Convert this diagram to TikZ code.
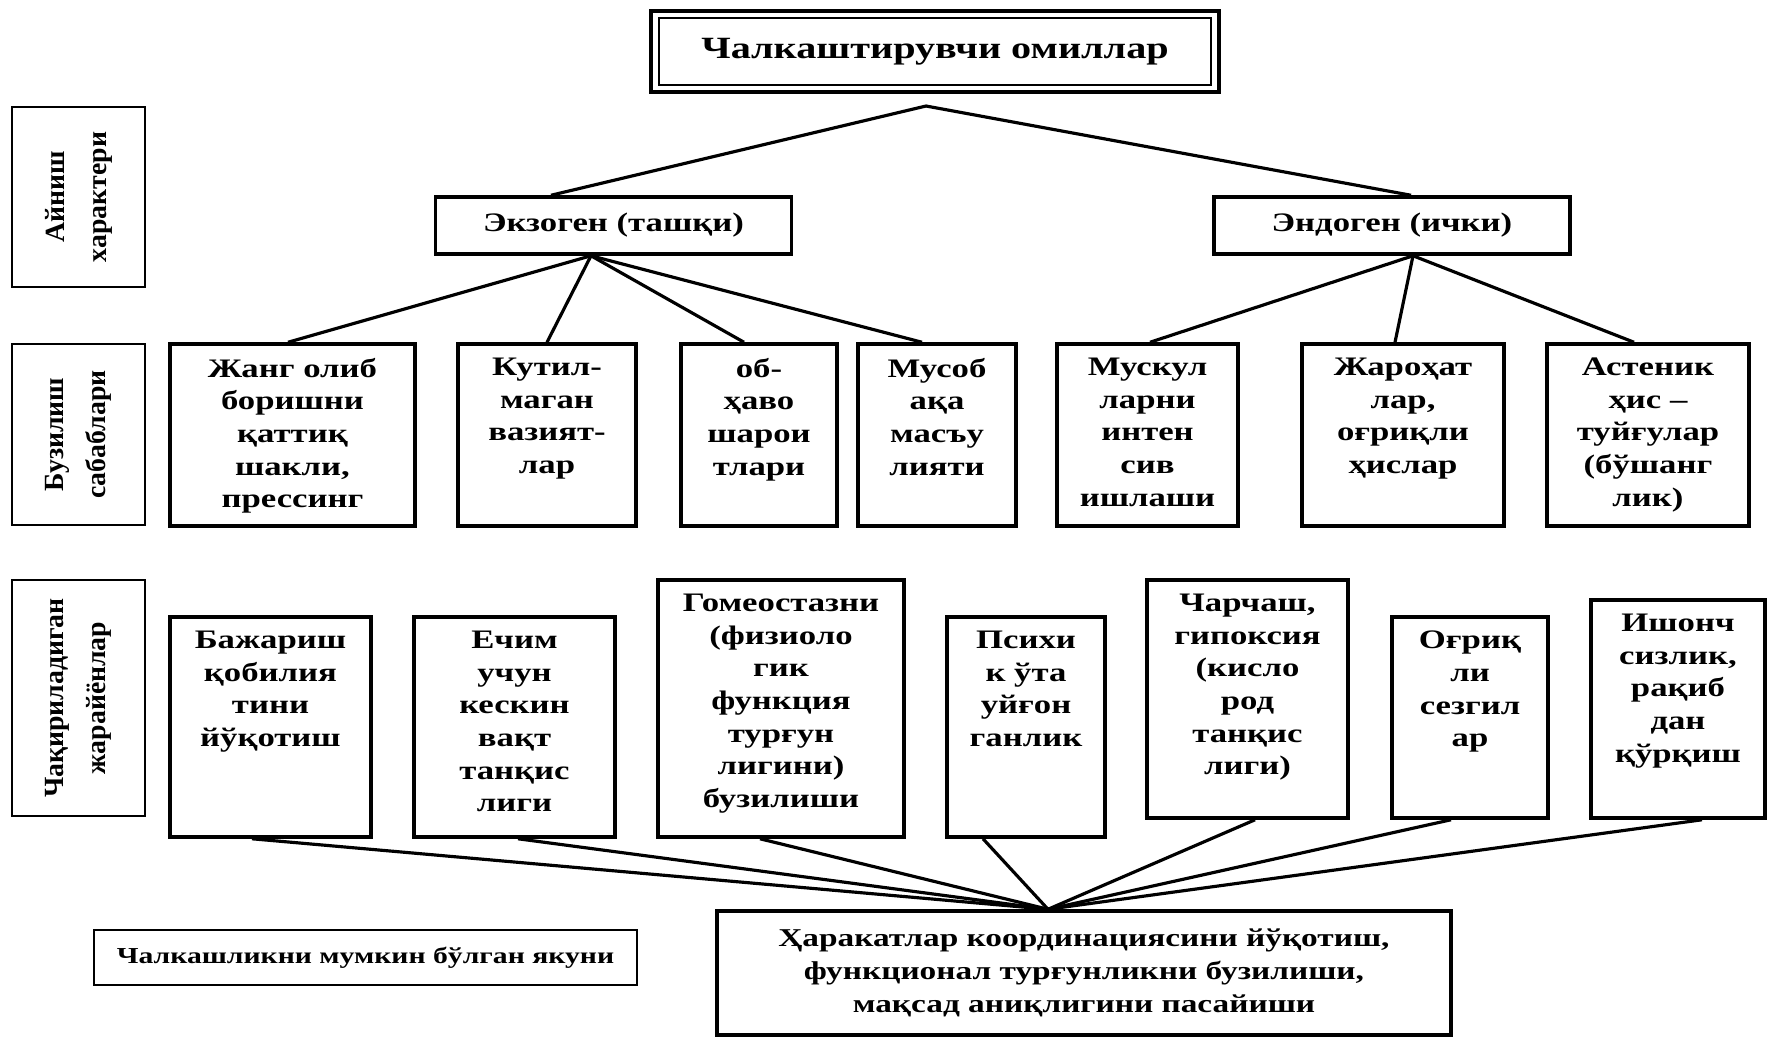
\documentclass[tikz,border=0pt]{standalone}
\usepackage{fontspec}
\setmainfont{Liberation Serif}[FakeStretch=1.3]
\newfontfamily\sidefont{Liberation Serif}
\usetikzlibrary{positioning}

\begin{document}
\begin{tikzpicture}[
    head/.style={rectangle, draw, line width=1.3pt, font=\fontsize{8.8}{11}\selectfont\bfseries},
    kind/.style={rectangle, draw, line width=1pt, minimum width=3.56cm, minimum height=0.57cm, font=\fontsize{7.6}{9.3}\selectfont\bfseries},
    cell/.style={rectangle, draw, line width=1pt, inner sep=0pt},
    txt/.style={align=center, inner sep=0pt, font=\fontsize{7.6}{9.3}\selectfont\bfseries},
    side/.style={rectangle, draw, line width=0.5pt, rotate=90, minimum height=1.33cm, align=center, font=\sidefont\fontsize{7.9}{12}\selectfont\bfseries},
    link/.style={line width=0.9pt},
    node distance=0.15cm
]
    \useasboundingbox (0,0) rectangle (17.67,-10.38);

    % Title
    \node[head, minimum width=5.68cm, minimum height=0.81cm] (title) at (9.35,-0.515) {Чалкаштирувчи омиллар};
    \draw[line width=0.5pt] ([shift={(0.1,-0.09)}]title.north west) rectangle ([shift={(-0.1,0.09)}]title.south east);

    % Row captions
    \node[side, minimum width=1.80cm] (chr) at (0.785,-1.97) {Айниш\\характери};
    \node[side, minimum width=1.81cm] (cau) at (0.785,-4.345) {Бузилиш\\сабаблари};
    \node[side, minimum width=2.36cm] (prc) at (0.785,-6.98) {Чақириладиган\\жарайёнлар};

    % Kinds
    \node[kind] (exo) at (6.135,-2.255) {Экзоген (ташқи)};
    \node[kind] (endo) at (13.92,-2.255) {Эндоген (ички)};

    % Causes
    \node[cell, minimum width=2.45cm, minimum height=1.82cm] (war) at (2.925,-4.35) {};
    \node[txt, below=of war.north] {Жанг олиб\\боришни\\қаттиқ\\шакли,\\прессинг};
    \node[cell, minimum width=1.78cm, minimum height=1.82cm] (surp) at (5.47,-4.35) {};
    \node[txt, below=of surp.north] {Кутил-\\маган\\вазият-\\лар};
    \node[cell, minimum width=1.56cm, minimum height=1.82cm] (wthr) at (7.59,-4.35) {};
    \node[txt, below=of wthr.north] {об-\\ҳаво\\шарои\\тлари};
    \node[cell, minimum width=1.58cm, minimum height=1.82cm] (resp) at (9.37,-4.35) {};
    \node[txt, below=of resp.north] {Мусоб\\ақа\\масъу\\лияти};
    \node[cell, minimum width=1.81cm, minimum height=1.82cm] (musc) at (11.475,-4.35) {};
    \node[txt, below=of musc.north] {Мускул\\ларни\\интен\\сив\\ишлаши};
    \node[cell, minimum width=2.02cm, minimum height=1.82cm] (inj) at (14.03,-4.35) {};
    \node[txt, below=of inj.north] {Жароҳат\\лар,\\оғриқли\\ҳислар};
    \node[cell, minimum width=2.02cm, minimum height=1.82cm] (asth) at (16.48,-4.35) {};
    \node[txt, below=of asth.north] {Астеник\\ҳис –\\туйғулар\\(бўшанг\\лик)};

    % Processes
    \node[cell, minimum width=2.01cm, minimum height=2.20cm] (abil) at (2.705,-7.27) {};
    \node[txt, below=of abil.north] {Бажариш\\қобилия\\тини\\йўқотиш};
    \node[cell, minimum width=2.01cm, minimum height=2.20cm] (time) at (5.145,-7.27) {};
    \node[txt, below=of time.north] {Ечим\\учун\\кескин\\вақт\\танқис\\лиги};
    \node[cell, minimum width=2.46cm, minimum height=2.57cm] (home) at (7.81,-7.085) {};
    \node[txt, below=of home.north] {Гомеостазни\\(физиоло\\гик\\функция\\турғун\\лигини)\\бузилиши};
    \node[cell, minimum width=1.58cm, minimum height=2.20cm] (psy) at (10.26,-7.27) {};
    \node[txt, below=of psy.north] {Психи\\к ўта\\уйғон\\ганлик};
    \node[cell, minimum width=2.01cm, minimum height=2.38cm] (fat) at (12.475,-6.99) {};
    \node[txt, below=of fat.north] {Чарчаш,\\гипоксия\\(кисло\\род\\танқис\\лиги)};
    \node[cell, minimum width=1.56cm, minimum height=2.01cm] (pain) at (14.70,-7.175) {};
    \node[txt, below=of pain.north] {Оғриқ\\ли\\сезгил\\ар};
    \node[cell, minimum width=1.74cm, minimum height=2.18cm] (conf) at (16.78,-7.09) {};
    \node[txt, below=of conf.north] {Ишонч\\сизлик,\\рақиб\\дан\\қўрқиш};

    % Outcome
    \node[cell, minimum width=7.34cm, minimum height=1.24cm, align=center, font=\fontsize{7.3}{9.3}\selectfont\bfseries] (res) at (10.84,-9.73) {Ҳаракатлар координациясини йўқотиш,\\функционал турғунликни бузилиши,\\мақсад аниқлигини пасайиши};
    \node[draw, line width=0.5pt, minimum width=5.43cm, minimum height=0.55cm, font=\fontsize{6.5}{8}\selectfont\bfseries] (note) at (3.655,-9.575) {Чалкашликни мумкин бўлган якуни};

    % Connectors
    \coordinate (top) at (9.26,-1.06);
    \coordinate (join) at (res.north -| 10.48,0);
    \draw[link] (exo.north -| 5.51,0) -- (top) -- (endo.north -| 14.11,0);
    \foreach \n/\x in {war/2.88, surp/5.47, wthr/7.44, resp/9.22}
        \draw[link] (exo.south -| 5.91,0) -- (\n.north -| \x,0);
    \foreach \n/\x in {musc/11.50, inj/13.95, asth/16.34}
        \draw[link] (endo.south -| 14.13,0) -- (\n.north -| \x,0);
    \foreach \n/\x in {abil/2.52, time/5.18, home/7.60, psy/9.83, fat/12.55, pain/14.51, conf/17.02}
        \draw[link] (\n.south -| \x,0) -- (join);
\end{tikzpicture}
\end{document}
